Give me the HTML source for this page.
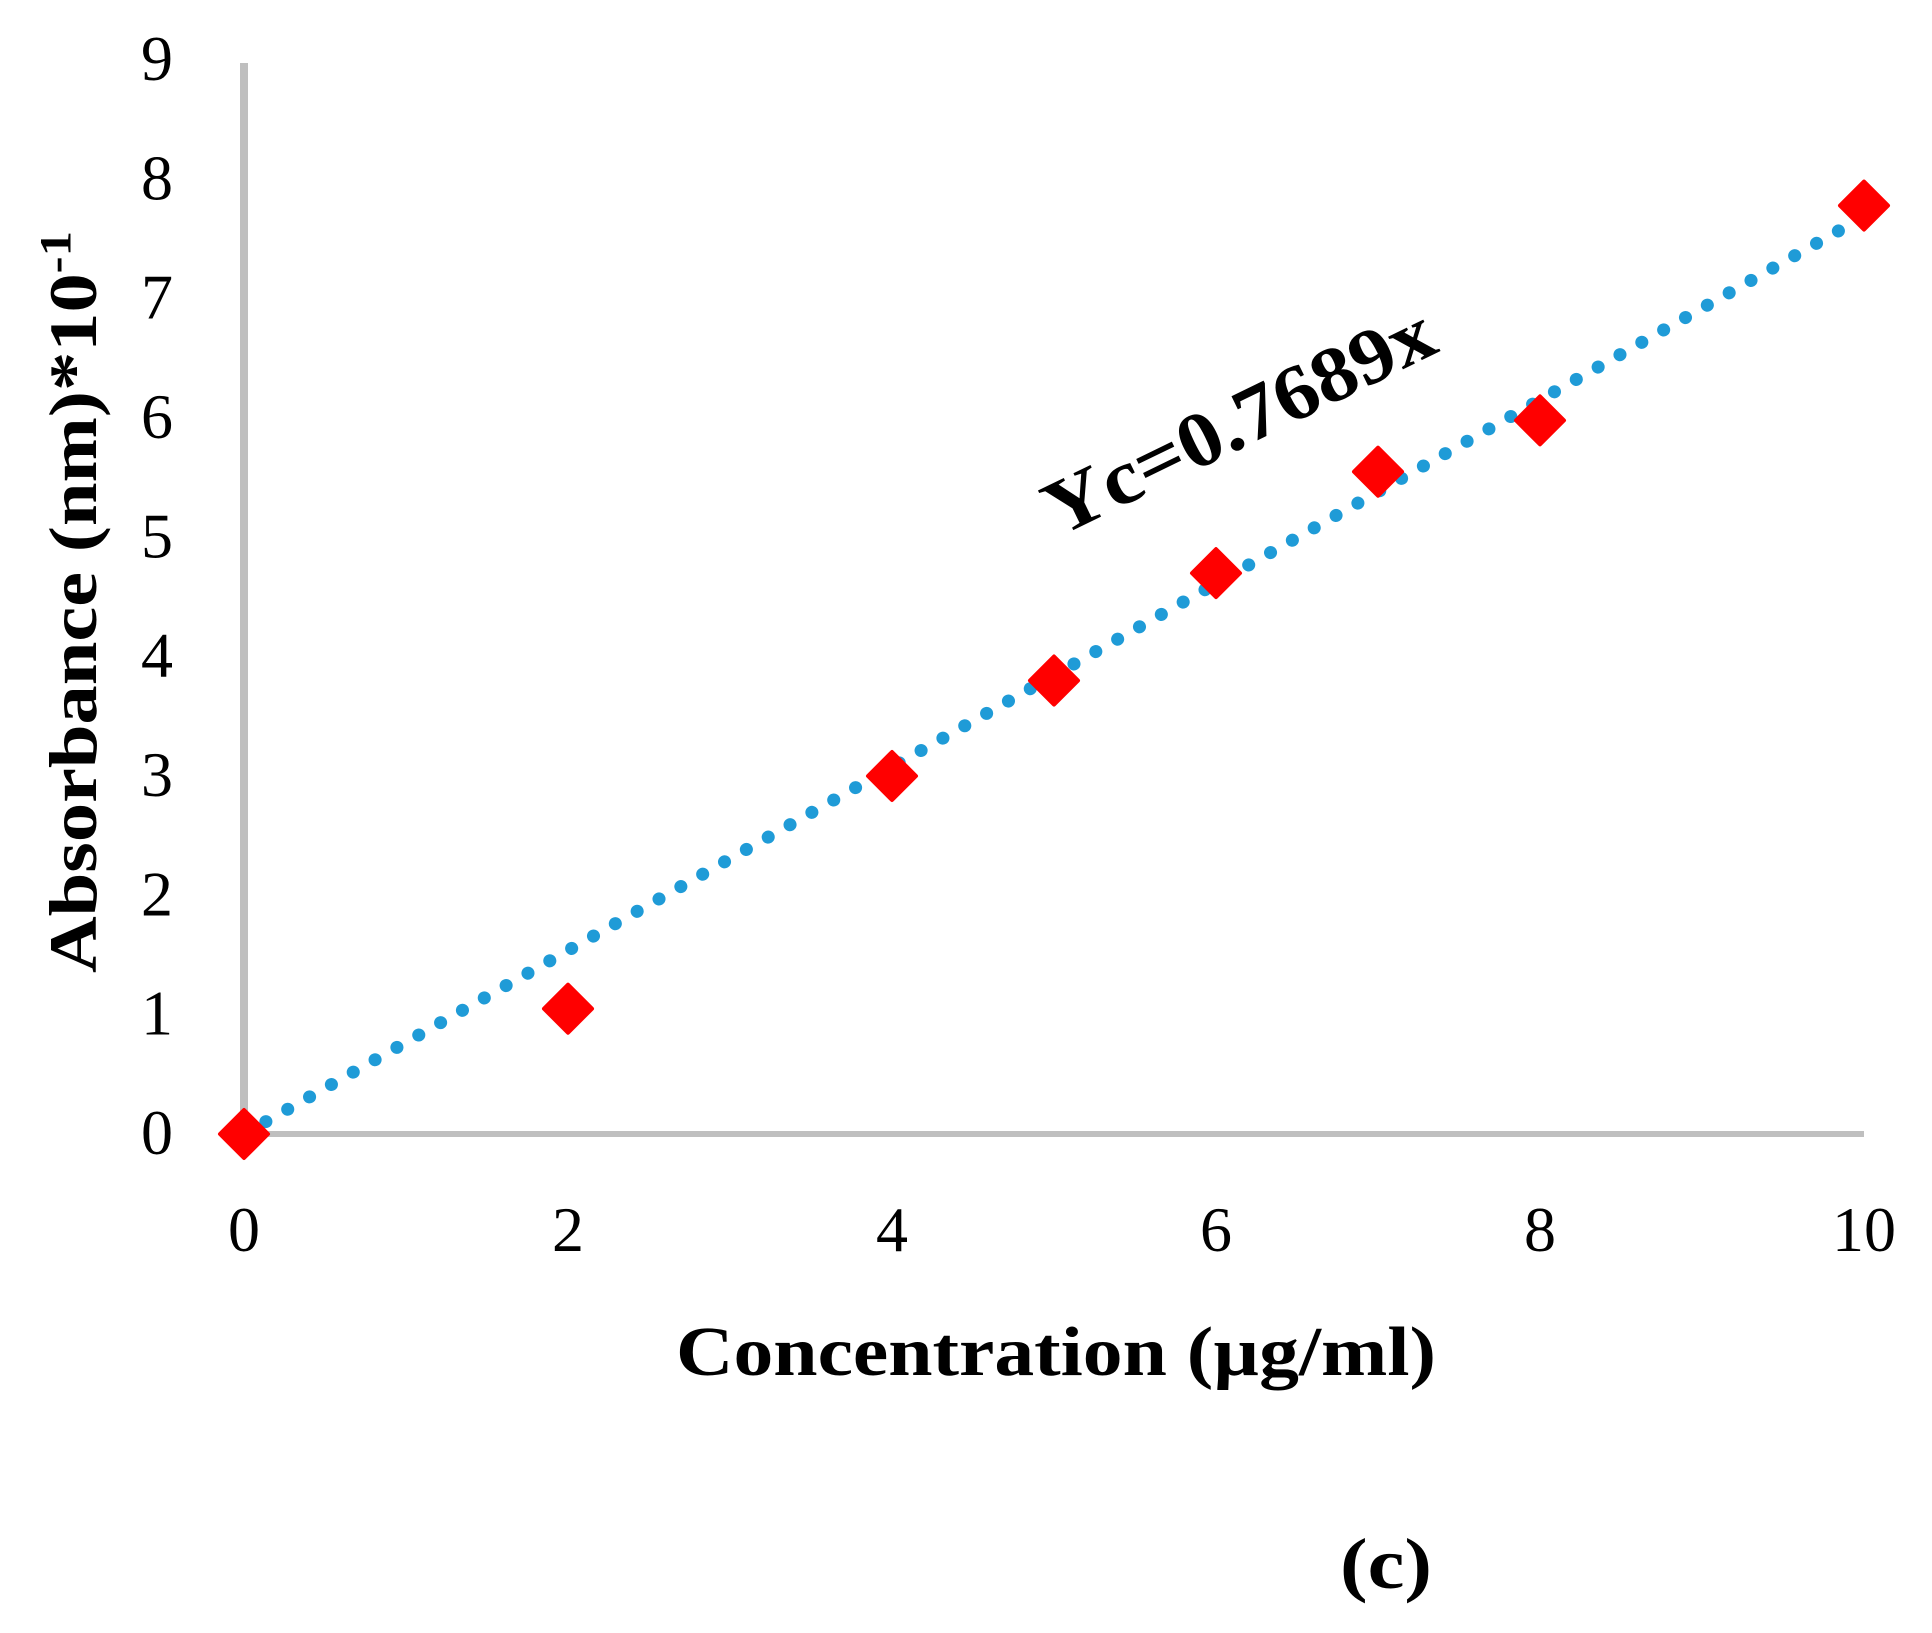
<!DOCTYPE html>
<html><head><meta charset="utf-8"><style>
html,body{margin:0;padding:0;background:#fff;}
svg{display:block;}
text{font-family:"Liberation Serif",serif;fill:#000;}
</style></head><body>
<svg id="chart" width="1932" height="1633" viewBox="0 0 1932 1633">
<g id="axes"></g>
<g id="trend"></g>
<g id="marks"></g>
<text transform="translate(96,602) rotate(-90)" text-anchor="middle" font-size="68" font-weight="bold" textLength="742" lengthAdjust="spacingAndGlyphs">Absorbance (nm)*10<tspan font-size="44" dy="-26">-1</tspan></text>
<text x="676" y="1375" font-size="70" font-weight="bold" textLength="760" lengthAdjust="spacingAndGlyphs">Concentration (µg/ml)</text>
<text transform="translate(1250,444) rotate(-26)" text-anchor="middle" font-size="78" font-weight="bold" textLength="425" lengthAdjust="spacingAndGlyphs">Yc=0.7689x</text>
<text x="1340" y="1588" font-size="72" font-weight="bold" textLength="92" lengthAdjust="spacingAndGlyphs">(c)</text>
</svg>
<script>
const xValues=[0,2,4,5,6,7,8,10];
const yValues=[0,1.05,3.0,3.8,4.7,5.55,5.98,7.78];
const slope=0.7689;
const xTicks=[0,2,4,6,8,10];
const yTicks=[0,1,2,3,4,5,6,7,8,9];
const NS='http://www.w3.org/2000/svg';
const X0=244,X1=1864,Y0=1134,YTOP=60;
function sx(v){return X0+(X1-X0)*v/10;}
function sy(v){return Y0-(Y0-YTOP)*v/9;}
function mk(tag,attrs,parent){const e=document.createElementNS(NS,tag);for(const k in attrs)e.setAttribute(k,attrs[k]);parent.appendChild(e);return e;}
const axes=document.getElementById('axes');
let l=mk('line',{x1:X0,y1:sy(9)+3,x2:X0,y2:Y0,stroke:'#bfbfbf','stroke-width':8},axes);


l=mk('line',{x1:X0,y1:Y0,x2:X1,y2:Y0,stroke:'#bfbfbf','stroke-width':6},axes);


yTicks.forEach(t=>{const e=mk('text',{x:157,y:sy(t)+20,'text-anchor':'middle','font-size':64},axes);e.textContent=t;

});
xTicks.forEach(t=>{const e=mk('text',{x:sx(t),y:1251,'text-anchor':'middle','font-size':64},axes);e.textContent=t;

});
const trend=document.getElementById('trend');
const tl=mk('line',{x1:sx(0),y1:sy(0),x2:sx(10),y2:sy(slope*10),stroke:'#1f9bd7','stroke-width':13,'stroke-linecap':'round','stroke-dasharray':'0.1 25'},trend);


const marks=document.getElementById('marks');
xValues.forEach((x,i)=>{const cx=sx(x),cy=sy(yValues[i]),r=24;
const p=mk('polygon',{points:`${cx},${cy-r} ${cx+r},${cy} ${cx},${cy+r} ${cx-r},${cy}`,fill:'#ff0000','stroke':'#ff0000','stroke-width':4,'stroke-linejoin':'round'},marks);

});
</script>
</body></html>
